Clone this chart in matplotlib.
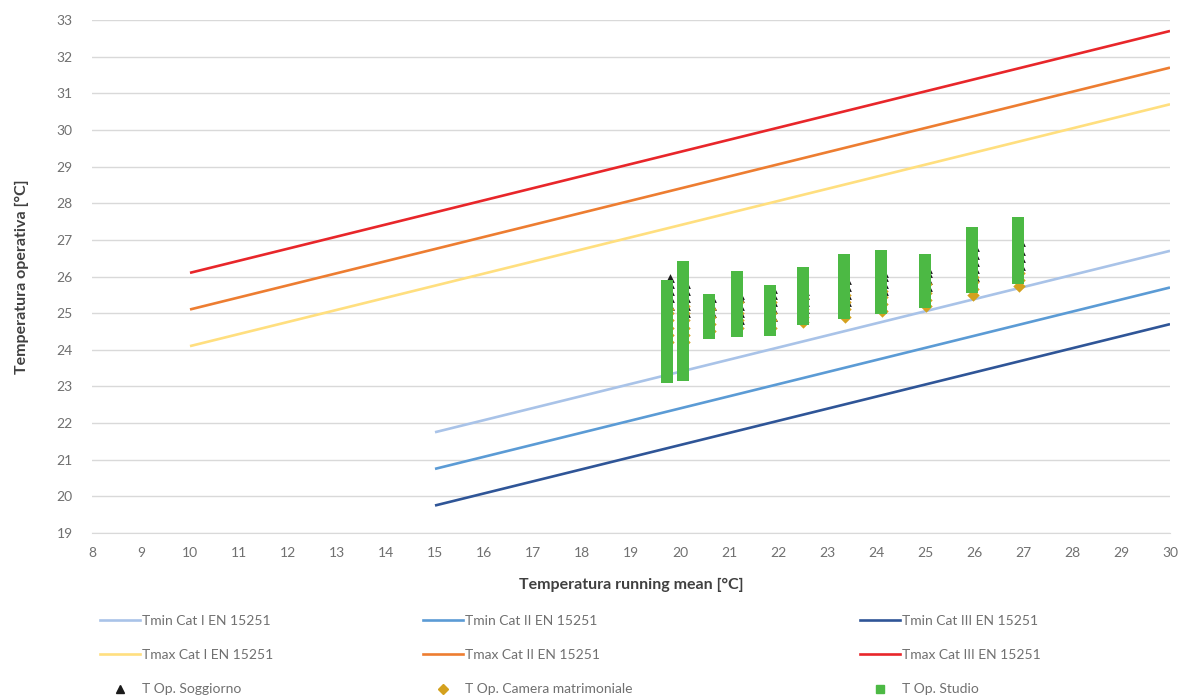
import matplotlib
matplotlib.use("Agg")
import matplotlib.pyplot as plt
from matplotlib.lines import Line2D

plt.rcParams['font.family'] = ['Lato', 'DejaVu Sans']

# ---- Comfort limit lines (EN 15251) ----
x_max_lines = [10, 30]
x_min_lines = [15, 30]
tmin_cat1 = [21.75, 26.7]
tmin_cat2 = [20.75, 25.7]
tmin_cat3 = [19.75, 24.7]
tmax_cat1 = [24.1, 30.7]
tmax_cat2 = [25.1, 31.7]
tmax_cat3 = [26.1, 32.7]

# ---- Measured operative temperatures, grouped by running-mean day ----
running_mean = [19.73, 20.06, 20.6, 21.16, 21.84, 22.5, 23.35, 24.1, 25.0, 25.96, 26.9]

soggiorno = [
    [25.2, 25.4, 25.6, 25.8, 25.95],
    [25.0, 25.2, 25.4, 25.6, 25.8],
    [25.0, 25.2, 25.4],
    [24.8, 25.0, 25.2, 25.4, 25.5],
    [24.9, 25.1, 25.3, 25.5, 25.65],
    [25.1, 25.3, 25.5, 25.6],
    [25.3, 25.5, 25.7, 25.9],
    [25.6, 25.8, 26.0, 26.1],
    [25.7, 25.9, 26.1, 26.2],
    [26.0, 26.2, 26.4, 26.6, 26.8],
    [26.3, 26.5, 26.7, 26.95],
]
camera = [
    [24.2, 24.4, 24.6, 24.8, 25.0, 25.1],
    [24.2, 24.4, 24.6, 24.8, 25.0, 25.2],
    [24.5, 24.7, 24.9, 25.1],
    [24.6, 24.8, 25.0, 25.3],
    [24.6, 24.8, 25.0, 25.3],
    [24.75, 24.9, 25.1, 25.4],
    [24.9, 25.1, 25.3, 25.5],
    [25.05, 25.25, 25.45, 25.6],
    [25.2, 25.35, 25.55, 25.8],
    [25.5, 25.65, 25.85, 26.0],
    [25.75, 25.9, 26.1],
]
studio = [
    [23.25, 23.45, 23.65, 23.85, 24.05, 24.25, 24.45, 24.65, 24.85, 25.05, 25.25, 25.45, 25.6, 25.75],
    [23.3, 23.5, 23.7, 23.9, 24.1, 24.3, 24.5, 24.7, 24.9, 25.1, 25.3, 25.5, 25.7, 25.9, 26.1, 26.25],
    [24.45, 24.65, 24.85, 25.05, 25.2, 25.35],
    [24.5, 24.7, 24.9, 25.1, 25.3, 25.5, 25.7, 25.85, 26.0],
    [24.55, 24.75, 24.95, 25.15, 25.35, 25.5, 25.6],
    [24.85, 25.05, 25.25, 25.45, 25.65, 25.85, 26.0, 26.1],
    [25.0, 25.2, 25.4, 25.6, 25.8, 26.0, 26.2, 26.35, 26.45],
    [25.15, 25.35, 25.55, 25.75, 25.95, 26.15, 26.35, 26.55],
    [25.3, 25.5, 25.7, 25.9, 26.1, 26.3, 26.45],
    [25.7, 25.9, 26.1, 26.3, 26.5, 26.7, 26.9, 27.05, 27.2],
    [25.95, 26.15, 26.35, 26.55, 26.75, 26.95, 27.15, 27.3, 27.45],
]

x_ticks = list(range(8, 31))
y_ticks = list(range(19, 34))

c_tmin1, c_tmin2, c_tmin3 = '#a9c3e8', '#5b9bd5', '#2f5597'
c_tmax1, c_tmax2, c_tmax3 = '#ffdf7f', '#ed7d31', '#e8262a'
c_sog, c_cam, c_stu = '#1a1a1a', '#d4a11e', '#4cb944'

W, H = 1189, 695
fig = plt.figure(figsize=(W / 100, H / 100), dpi=100)
ax = fig.add_axes([92 / W, 1 - 533 / H, (1170 - 92) / W, (533 - 20) / H])

lw = 1.9
ax.plot(x_min_lines, tmin_cat1, color=c_tmin1, lw=lw, solid_capstyle='butt')
ax.plot(x_min_lines, tmin_cat2, color=c_tmin2, lw=lw, solid_capstyle='butt')
ax.plot(x_min_lines, tmin_cat3, color=c_tmin3, lw=lw, solid_capstyle='butt')
ax.plot(x_max_lines, tmax_cat1, color=c_tmax1, lw=lw, solid_capstyle='butt')
ax.plot(x_max_lines, tmax_cat2, color=c_tmax2, lw=lw, solid_capstyle='butt')
ax.plot(x_max_lines, tmax_cat3, color=c_tmax3, lw=lw, solid_capstyle='butt')

for rm, ys in zip(running_mean, soggiorno):
    ax.scatter([rm + 0.06] * len(ys), ys, marker='^', s=40, color=c_sog, lw=0, zorder=3)
for rm, ys in zip(running_mean, camera):
    ax.scatter([rm + 0.02] * len(ys), ys, marker='D', s=40, color=c_cam, lw=0, zorder=4)
for rm, ys in zip(running_mean, studio):
    ax.scatter([rm] * len(ys), ys, marker='s', s=72, color=c_stu, lw=0, zorder=5)

ax.set_xlim(8, 30)
ax.set_ylim(19, 33)
ax.set_xticks(x_ticks)
ax.set_yticks(y_ticks)
ax.grid(axis='y', color='#d9d9d9', lw=1)
ax.set_axisbelow(True)
for s in ['top', 'right', 'left']:
    ax.spines[s].set_visible(False)
ax.spines['bottom'].set_color('#d9d9d9')
ax.tick_params(length=0, labelsize=10, colors='#707070', pad=10)
ax.tick_params(axis='y', pad=14)

ax.set_xlabel('Temperatura running mean [°C]', fontsize=11.5, fontweight='bold',
              color='#404040', labelpad=14)
ax.set_ylabel('Temperatura operativa [°C]', fontsize=11.5, fontweight='bold',
              color='#404040', labelpad=20)

def lh(c):
    return Line2D([0], [0], color=c, lw=lw)

def mh(m, c, ms):
    return Line2D([0], [0], color=c, marker=m, ls='none', markersize=ms)

cols = [
    ([lh(c_tmin1), lh(c_tmax1), mh('^', c_sog, 6)],
     ['Tmin Cat I EN 15251', 'Tmax Cat I EN 15251', 'T Op. Soggiorno'], 100),
    ([lh(c_tmin2), lh(c_tmax2), mh('D', c_cam, 5.5)],
     ['Tmin Cat II EN 15251', 'Tmax Cat II EN 15251', 'T Op. Camera matrimoniale'], 423),
    ([lh(c_tmin3), lh(c_tmax3), mh('s', c_stu, 6)],
     ['Tmin Cat III EN 15251', 'Tmax Cat III EN 15251', 'T Op. Studio'], 860),
]
for handles, labels, xpx in cols:
    leg = fig.legend(handles, labels, loc='upper left',
                     bbox_to_anchor=(xpx / W, 1 - 615 / H),
                     frameon=False, fontsize=10, handlelength=2.9,
                     handletextpad=0.15, labelspacing=1.6,
                     borderaxespad=0, borderpad=0, labelcolor='#707070')

fig.savefig('out.png', dpi=100, facecolor='white')
